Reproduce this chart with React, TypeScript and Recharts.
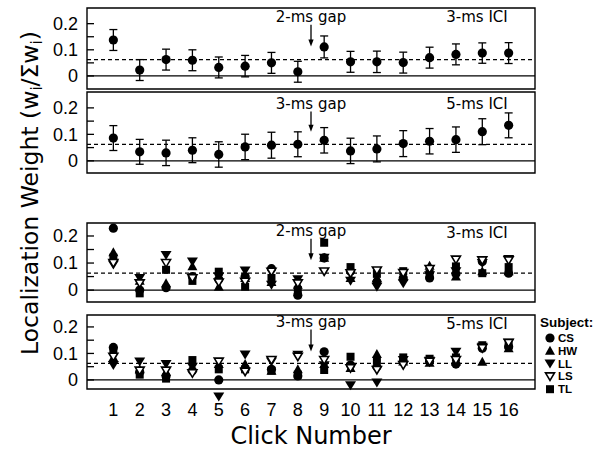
import React from 'react';
import {
  ScatterChart,
  Scatter,
  XAxis,
  YAxis,
  ReferenceLine,
  ReferenceArea,
  ReferenceDot,
  ErrorBar,
} from 'recharts';

const clicks = [1, 2, 3, 4, 5, 6, 7, 8, 9, 10, 11, 12, 13, 14, 15, 16];
const yTicks = [0, 0.05, 0.1, 0.15, 0.2];
const equalWeight = 0.0625;

// mean weights (top two panels)
const gap2Ici3Mean = [0.1375, 0.0225, 0.0625, 0.06, 0.0325, 0.0375, 0.05, 0.016, 0.111, 0.054, 0.054, 0.051, 0.07, 0.0825, 0.0875, 0.0875];
const gap2Ici3Err = [0.04, 0.04, 0.04, 0.04, 0.04, 0.041, 0.04, 0.04, 0.042, 0.04, 0.041, 0.04, 0.04, 0.04, 0.039, 0.04];
const gap3Ici5Mean = [0.086, 0.034, 0.03, 0.04, 0.024, 0.0525, 0.059, 0.0625, 0.0775, 0.0375, 0.045, 0.065, 0.074, 0.08, 0.11, 0.134];
const gap3Ici5Err = [0.047, 0.047, 0.048, 0.047, 0.048, 0.048, 0.049, 0.047, 0.048, 0.048, 0.049, 0.049, 0.048, 0.048, 0.049, 0.047];

// individual subjects, 2-ms gap / 3-ms ICI
const gap2CS = [0.229, 0.0, 0.009, 0.05, 0.04, 0.05, 0.079, -0.019, 0.119, 0.07, 0.03, 0.045, 0.045, 0.06, 0.106, 0.0625];
const gap2HW = [0.14, 0.035, 0.025, 0.088, 0.012, 0.045, 0.03, 0.02, 0.12, 0.045, 0.045, 0.05, 0.09, 0.05, 0.07, 0.07];
const gap2LL = [0.095, 0.045, 0.13, 0.106, 0.05, 0.072, 0.02, 0.04, 0.12, 0.035, 0.0125, 0.025, 0.055, 0.07, 0.1, 0.115];
const gap2LS = [0.1, 0.025, 0.1, 0.044, 0.028, 0.031, 0.068, 0.025, 0.069, 0.062, 0.0725, 0.063, 0.078, 0.1125, 0.11, 0.11];
const gap2TL = [0.12, -0.012, 0.075, 0.034, 0.068, 0.0125, 0.045, 0.0, 0.175, 0.085, 0.06, 0.07, 0.06, 0.0875, 0.0625, 0.085];

// individual subjects, 3-ms gap / 5-ms ICI
const gap3CS = [0.1225, 0.03, 0.015, 0.035, 0.0, 0.04, 0.04, 0.015, 0.106, 0.056, 0.05, 0.07, 0.07, 0.06, 0.12, 0.125];
const gap3HW = [0.085, 0.04, 0.03, 0.045, 0.06, 0.06, 0.035, 0.04, 0.06, 0.045, 0.0975, 0.07, 0.065, 0.07, 0.069, 0.12];
const gap3LL = [0.056, 0.07, 0.06, 0.05, -0.0625, 0.096, 0.07, 0.095, 0.055, -0.02, -0.01, 0.075, 0.072, 0.106, 0.125, 0.14];
const gap3LS = [0.0875, 0.035, 0.035, 0.025, 0.069, 0.031, 0.075, 0.0875, 0.075, 0.044, 0.0375, 0.056, 0.069, 0.075, 0.12, 0.14];
const gap3TL = [0.11, 0.02, 0.005, 0.075, 0.04, 0.04, 0.035, 0.02, 0.0375, 0.0875, 0.075, 0.085, 0.08, 0.085, 0.131, 0.13];

const subjects = ['CS', 'HW', 'LL', 'LS', 'TL'];
const drawOrder = ['HW', 'LL', 'TL', 'CS', 'LS'];

const gap2Subjects: Record<string, number[]> = { CS: gap2CS, HW: gap2HW, LL: gap2LL, LS: gap2LS, TL: gap2TL };
const gap3Subjects: Record<string, number[]> = { CS: gap3CS, HW: gap3HW, LL: gap3LL, LS: gap3LS, TL: gap3TL };

const TICK_FONT = '"Liberation Sans", Arial, sans-serif';
const LABEL_FONT = '"DejaVu Sans", sans-serif';

const toPoints = (vals: number[], err?: number[]) =>
  clicks.map((c, i) => ({ x: c, y: vals[i], err: err ? err[i] : 0 }));

const fmtTick = (v: number) => (v === 0 ? '0' : v === 0.1 || v === 0.2 ? String(v) : '');

const markers: Record<string, (p: any) => React.ReactElement> = {
  CS: ({ cx, cy }) => <circle cx={cx} cy={cy} r={4.6} fill="#000" />,
  HW: ({ cx, cy }) => <path d={`M${cx},${cy - 5} L${cx + 5},${cy + 4} L${cx - 5},${cy + 4} Z`} fill="#000" />,
  LL: ({ cx, cy }) => <path d={`M${cx - 5.5},${cy - 4} L${cx + 5.5},${cy - 4} L${cx},${cy + 5} Z`} fill="#000" />,
  LS: ({ cx, cy }) => (
    <path d={`M${cx - 4.5},${cy - 3.5} L${cx + 4.5},${cy - 3.5} L${cx},${cy + 4} Z`} fill="#fff" stroke="#000" strokeWidth={1.6} />
  ),
  TL: ({ cx, cy }) => <rect x={cx - 4} y={cy - 4} width={8} height={8} fill="#000" />,
};

const Arrow = (p: any) => {
  const { x1, y1, x2, y2 } = p;
  return (
    <g>
      <line x1={x1} y1={y1} x2={x2} y2={y2 - 5} stroke="#000" strokeWidth={1.3} />
      <path d={`M${x2 - 2.6},${y2 - 7} L${x2 + 2.6},${y2 - 7} L${x2},${y2} Z`} fill="#000" />
    </g>
  );
};

const noteText = (text: string) => (p: any) => (
  <text x={p.cx} y={p.cy} textAnchor="middle" fontSize={15} fontFamily={LABEL_FONT} fill="#000">
    {text}
  </text>
);

interface PanelProps {
  top: number;
  height: number;
  mt: number;
  mb: number;
  domain: [number, number];
  frameLo: number;
  gap: string;
  ici: string;
  arrow: [number, number];
  iciY: number;
  showX?: boolean;
  xHeight?: number;
  children: React.ReactNode;
}

const Panel = ({ top, height, mt, mb, domain, frameLo, gap, ici, arrow, iciY, showX, xHeight, children }: PanelProps) => (
  <div style={{ position: 'absolute', left: 0, top }}>
    <ScatterChart width={597} height={height} margin={{ top: mt, right: 62, bottom: mb, left: 47 }}>
      <XAxis
        type="number"
        dataKey="x"
        domain={[0, 17]}
        ticks={clicks}
        interval={0}
        hide={!showX}
        height={showX ? xHeight : 0}
        axisLine={false}
        tickLine={false}
        tickSize={0}
        tickMargin={5}
        tick={{ fontSize: 18, fill: '#000', fontFamily: TICK_FONT }}
        label={
          showX
            ? { value: 'Click Number', position: 'insideBottom', offset: 6, fontSize: 24, fill: '#000', fontFamily: LABEL_FONT }
            : undefined
        }
      />
      <YAxis
        type="number"
        dataKey="y"
        domain={domain}
        ticks={yTicks}
        interval={0}
        width={40}
        axisLine={false}
        tickSize={-7}
        tickMargin={16}
        tickLine={{ stroke: '#000', strokeWidth: 1.3 }}
        tickFormatter={fmtTick}
        tick={{ fontSize: 18, fill: '#000', fontFamily: TICK_FONT }}
      />
      <YAxis
        yAxisId="r"
        orientation="right"
        type="number"
        domain={domain}
        allowDataOverflow
        ticks={yTicks}
        interval={0}
        width={0}
        axisLine={false}
        tickSize={-7}
        tick={false}
        tickLine={{ stroke: '#000', strokeWidth: 1.3 }}
      />
      <ReferenceArea x1={0} x2={17} y1={frameLo} y2={domain[1]} fill="none" fillOpacity={0} stroke="#000" strokeWidth={1.4} />
      <ReferenceLine y={0} stroke="#000" strokeWidth={1.3} />
      <ReferenceLine y={equalWeight} stroke="#000" strokeWidth={1.3} strokeDasharray="4 3" />
      <ReferenceLine
        segment={[{ x: 8.5, y: arrow[0] }, { x: 8.5, y: arrow[1] }]}
        shape={Arrow}
        label={{ value: gap, position: 'top', offset: 3, fontSize: 15, fill: '#000', fontFamily: LABEL_FONT }}
      />
      <ReferenceDot x={14.8} y={iciY} shape={noteText(ici)} />
      {children}
    </ScatterChart>
  </div>
);

const meanSeries = (mean: number[], err: number[]) => (
  <Scatter data={toPoints(mean, err)} dataKey="y" isAnimationActive={false} shape={markers.CS}>
    <ErrorBar dataKey="err" direction="y" width={4} stroke="#000" strokeWidth={1.3} isAnimationActive={false} />
  </Scatter>
);

const subjectSeries = (set: Record<string, number[]>) =>
  drawOrder.map((s) => (
    <Scatter key={s} name={s} data={toPoints(set[s])} dataKey="y" isAnimationActive={false} shape={markers[s]} />
  ));

export default function App() {
  return (
    <div style={{ position: 'absolute', left: 0, top: 0, width: 597, height: 450, background: '#fff' }}>
      <Panel top={2} height={91} mt={6} mb={4} domain={[-0.05, 0.26]} frameLo={-0.05} gap="2-ms gap" ici="3-ms ICI" arrow={[0.196, 0.113]} iciY={0.208}>
        {meanSeries(gap2Ici3Mean, gap2Ici3Err)}
      </Panel>
      <Panel top={84} height={93} mt={8} mb={4} domain={[-0.046, 0.26]} frameLo={-0.046} gap="3-ms gap" ici="5-ms ICI" arrow={[0.186, 0.11]} iciY={0.196}>
        {meanSeries(gap3Ici5Mean, gap3Ici5Err)}
      </Panel>
      <Panel top={213} height={93} mt={10} mb={4} domain={[-0.044, 0.248]} frameLo={-0.044} gap="2-ms gap" ici="3-ms ICI" arrow={[0.19, 0.11]} iciY={0.193}>
        {subjectSeries(gap2Subjects)}
      </Panel>
      <Panel top={301} height={149} mt={14} mb={0} domain={[-0.07, 0.245]} frameLo={-0.034} gap="3-ms gap" ici="5-ms ICI" arrow={[0.19, 0.107]} iciY={0.192} showX xHeight={51.5}>
        {subjectSeries(gap3Subjects)}
      </Panel>
      <svg width={597} height={450} style={{ position: 'absolute', left: 0, top: 0, pointerEvents: 'none' }}>
        <text transform="translate(38,193) rotate(-90)" textAnchor="middle" fontSize={23.5} fontFamily={LABEL_FONT} fill="#000">
          Localization Weight  (w<tspan dy={4} fontSize={15}>i</tspan>
          <tspan dy={-4}>/Σw</tspan>
          <tspan dy={4} fontSize={15}>i</tspan>
          <tspan dy={-4}>)</tspan>
        </text>
        <text x={540} y={327} fontSize={13.5} fontWeight="bold" fontFamily={TICK_FONT} fill="#000">
          Subject:
        </text>
        {subjects.map((s, i) => {
          const cy = 338 + i * 12.8;
          return (
            <g key={s}>
              {markers[s]({ cx: 550, cy })}
              <text x={558} y={cy + 4} fontSize={11.5} fontWeight="bold" fontFamily={TICK_FONT} fill="#000">
                {s}
              </text>
            </g>
          );
        })}
      </svg>
    </div>
  );
}
